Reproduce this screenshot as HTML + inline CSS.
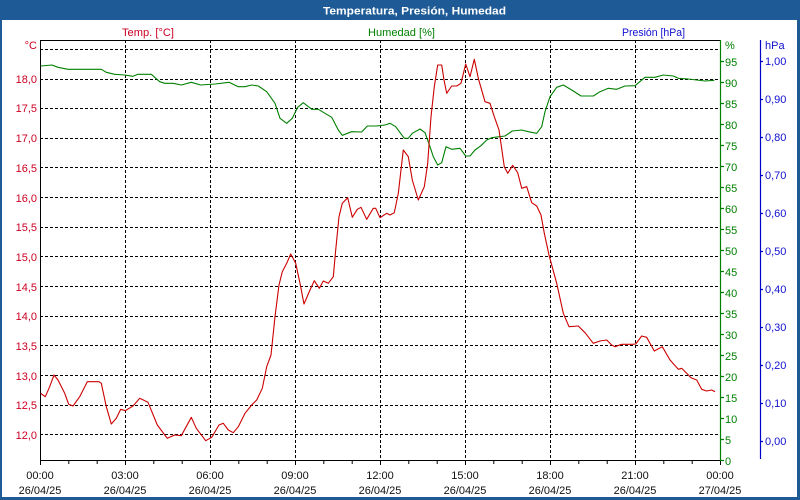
<!DOCTYPE html>
<html><head><meta charset="utf-8"><style>
html,body{margin:0;padding:0;background:#1e5b96;}
svg{display:block;}
text{font-family:"Liberation Sans","DejaVu Sans",sans-serif;font-size:11px;}
</style></head><body>
<svg width="800" height="500" viewBox="0 0 800 500" xmlns="http://www.w3.org/2000/svg">
<rect x="0" y="0" width="800" height="500" fill="#1e5b96"/>
<rect x="2" y="20" width="795" height="477" fill="#ffffff"/>
<text x="323" y="14.5" fill="#ffffff" font-weight="bold" font-size="12" textLength="183" lengthAdjust="spacingAndGlyphs">Temperatura, Presión, Humedad</text>

<text x="122" y="36" fill="#cc0022" textLength="52" lengthAdjust="spacingAndGlyphs">Temp. [°C]</text>
<text x="368" y="36" fill="#008000" textLength="67" lengthAdjust="spacingAndGlyphs">Humedad [%]</text>
<text x="622" y="36" fill="#1010d0" textLength="63" lengthAdjust="spacingAndGlyphs">Presión [hPa]</text>

<!-- grid -->
<g stroke="#000" stroke-width="1" stroke-dasharray="3,2" fill="none">
<path d="M40 49.5H720M40 79.5H720M40 108.5H720M40 138.5H720M40 167.5H720M40 197.5H720M40 227.5H720M40 256.5H720M40 286.5H720M40 316.5H720M40 345.5H720M40 375.5H720M40 405.5H720M40 434.5H720"/>
<path d="M125.5 40V460M210.5 40V460M295.5 40V460M380.5 40V460M465.5 40V460M550.5 40V460M635.5 40V460"/>
</g>

<!-- axes -->
<g stroke="#000" stroke-width="1" fill="none">
<path d="M40.5 40V460.5H720M40 40.5H720"/>
<path d="M40.5 460V465M68.8 460V464M97.2 460V464M125.5 460V465M153.8 460V464M182.2 460V464M210.5 460V465M238.8 460V464M267.2 460V464M295.5 460V465M323.8 460V464M352.2 460V464M380.5 460V465M408.8 460V464M437.2 460V464M465.5 460V465M493.8 460V464M522.2 460V464M550.5 460V465M578.8 460V464M607.2 460V464M635.5 460V465M663.8 460V464M692.2 460V464M720.5 460V465"/>
</g>
<g stroke="#008000" stroke-width="1.2" fill="none">
<path d="M720.5 40V461"/>
<path d="M720 61.5H724M720 82.5H724M720 103.5H724M720 124.5H724M720 145.5H724M720 166.5H724M720 187.5H724M720 208.5H724M720 229.5H724M720 250.5H724M720 271.5H724M720 292.5H724M720 313.5H724M720 334.5H724M720 355.5H724M720 376.5H724M720 397.5H724M720 418.5H724M720 439.5H724M720 460.5H724"/>
</g>
<g stroke="#0000c8" stroke-width="1.2" fill="none">
<path d="M760.5 40V459"/>
<path d="M760 61.5H763M760 99.5H763M760 137.5H763M760 175.5H763M760 213.5H763M760 251.5H763M760 289.5H763M760 327.5H763M760 365.5H763M760 403.5H763M760 441.5H763"/>
</g>

<!-- temperature labels -->
<g fill="#cc0022" text-anchor="end">
<text x="37" y="49">°C</text>
<text x="37" y="83">18,0</text>
<text x="37" y="112">17,5</text>
<text x="37" y="142">17,0</text>
<text x="37" y="172">16,5</text>
<text x="37" y="202">16,0</text>
<text x="37" y="231">15,5</text>
<text x="37" y="261">15,0</text>
<text x="37" y="291">14,5</text>
<text x="37" y="320">14,0</text>
<text x="37" y="350">13,5</text>
<text x="37" y="380">13,0</text>
<text x="37" y="409">12,5</text>
<text x="37" y="439">12,0</text>
</g>

<!-- humidity labels -->
<g fill="#008000">
<text x="725" y="49">%</text>
<text x="725" y="66">95</text>
<text x="725" y="87">90</text>
<text x="725" y="108">85</text>
<text x="725" y="129">80</text>
<text x="725" y="150">75</text>
<text x="725" y="171">70</text>
<text x="725" y="192">65</text>
<text x="725" y="213">60</text>
<text x="725" y="234">55</text>
<text x="725" y="255">50</text>
<text x="725" y="276">45</text>
<text x="725" y="297">40</text>
<text x="725" y="318">35</text>
<text x="725" y="339">30</text>
<text x="725" y="360">25</text>
<text x="725" y="381">20</text>
<text x="725" y="402">15</text>
<text x="725" y="423">10</text>
<text x="725" y="444">5</text>
<text x="725" y="465">0</text>
</g>

<!-- pressure labels -->
<g fill="#1010d0">
<text x="765" y="49">hPa</text>
<text x="765" y="65">1,00</text>
<text x="765" y="103">0,90</text>
<text x="765" y="141">0,80</text>
<text x="765" y="179">0,70</text>
<text x="765" y="217">0,60</text>
<text x="765" y="255">0,50</text>
<text x="765" y="293">0,40</text>
<text x="765" y="331">0,30</text>
<text x="765" y="369">0,20</text>
<text x="765" y="407">0,10</text>
<text x="765" y="445">0,00</text>
</g>

<!-- x labels -->
<g fill="#111" text-anchor="middle">
<text x="40" y="479">00:00</text><text x="40" y="494">26/04/25</text>
<text x="125" y="479">03:00</text><text x="125" y="494">26/04/25</text>
<text x="210" y="479">06:00</text><text x="210" y="494">26/04/25</text>
<text x="295" y="479">09:00</text><text x="295" y="494">26/04/25</text>
<text x="380" y="479">12:00</text><text x="380" y="494">26/04/25</text>
<text x="465" y="479">15:00</text><text x="465" y="494">26/04/25</text>
<text x="550" y="479">18:00</text><text x="550" y="494">26/04/25</text>
<text x="635" y="479">21:00</text><text x="635" y="494">26/04/25</text>
<text x="720" y="479">00:00</text><text x="720" y="494">27/04/25</text>
</g>

<!-- humidity series -->
<polyline fill="none" stroke="#008000" stroke-width="1.1" stroke-linejoin="round" points="40.7,66 52,65 58,67.3 68,69.3 101.3,69.3 106.3,72.3 114.7,74.3 124.7,75 133,76.3 138,74.3 151.3,74.3 159.7,81.7 164.7,83.3 173,83.3 181.3,85 191.3,82.3 200.7,85 215,84 229,82.3 238.3,86.7 245,86.7 251.7,85 258.3,86 266.7,91.7 275,103.3 280,118.3 286.7,123.3 292.3,118.3 297.7,107.3 303.3,102.7 311.7,109.3 318.3,109.3 331.7,117.3 338.3,130 342.3,135.3 351.7,131.7 361.7,132 367.3,126 376.7,126 385,125 390,123.3 395.7,126.7 404.3,138.3 408.3,138.3 412.3,133.3 420,129 425,132.7 430,146.7 433.3,156.7 437.7,165 441.7,162.7 446,146.7 451.7,149.3 460,148.3 465.7,156 470,156 475,150 481,145.7 486.7,140 491.7,137.7 505,136 512.3,131 521.7,130 528.3,131.7 536.7,133.3 541.7,126.7 545,111.7 550,96.7 556.7,87.3 563.3,85 571.7,90 581,96 593.3,96 600,91.7 608.3,88.3 616.7,89.3 625,86 635,85.7 645,77.3 655,77.3 663.3,75 673.3,76 678.3,78.3 688.3,79 705,81 714.3,80.3"/>

<!-- temperature series -->
<polyline fill="none" stroke="#cc0000" stroke-width="1.1" stroke-linejoin="round" points="40.7,393.3 45.3,396.7 49.7,386.7 54,375 58,380 64.7,393.3 68.7,404.3 73,406 79.7,396.7 87.3,381.7 99,381.7 101.3,383.3 106.3,406.7 111.3,424 116.3,418.3 120.7,409.3 125.3,410.7 133,406 139.7,398.3 148,402.3 157.3,425 167.3,438.3 174.7,435 181.3,435.7 191.3,417.3 196.3,428.3 205.7,440.7 211.7,437.3 219,425 223.3,423.3 228.3,430 233.3,432.7 238.3,426.7 245,413.3 251.7,405 256.7,400 262.3,388.3 266.7,366.7 271,355 275,316.7 279,285 282.3,271.7 286.7,263.3 290.7,254 295.7,263.3 300,283.3 304,304 310,290 314.3,280.7 319.3,288.3 323.3,281 328.3,283.3 333.3,276.7 335.7,250 339,216.7 342.3,203.3 347.7,197.7 352.3,217.3 357.3,209.3 361,207.3 366.7,219.3 373.3,208.3 375.7,208.3 380,217.7 386.7,213.3 390,215 394.3,212.7 398.3,193.3 403.3,150 408.3,156.7 412.3,180 418.3,200 424.3,186.7 427.7,163.3 431,116.7 434.3,86.7 437.7,65 441.7,65 444,80 446.7,93.3 451.7,86 456.7,86 461,83.3 465.7,64 470,76.7 474.3,59.3 478.3,78.3 485,101.7 490,103.3 494.3,116.7 499,130 504.3,166.7 507.7,173.3 512.7,165.3 517.7,172.7 521.7,188.3 526.7,186.7 531.7,202.7 536.7,206 541,215 544.3,233.3 549,255 556.7,283.3 563.3,313.3 569,326.7 578.3,326 585,332.7 593.3,343.3 600,341 606.7,340 611.7,345 615,346.7 621.7,344.3 632.3,344.3 635.7,344 641.7,336 646.7,337.3 654.3,351 662.3,346.7 670,360 678.3,369.3 681.7,368.3 691,377.7 696.7,380 701.7,389.3 706.7,391 711.7,390 715,391.7"/>
</svg>
</body></html>
